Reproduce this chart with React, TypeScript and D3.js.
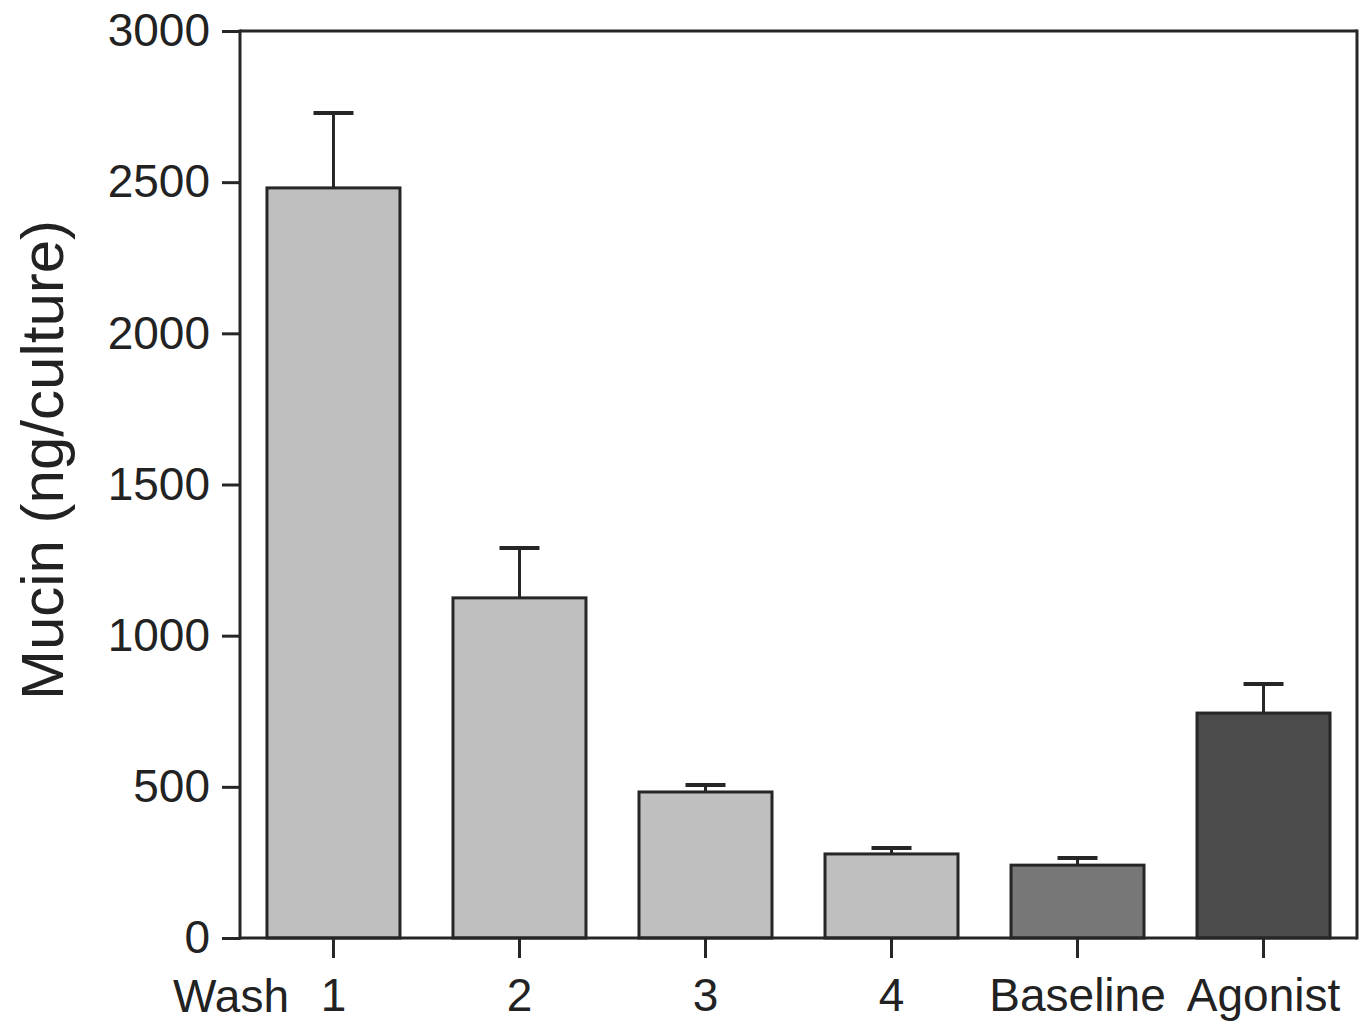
import React, { useEffect, useRef } from "react";
import * as d3 from "d3";

const categories = ["1", "2", "3", "4", "Baseline", "Agonist"];
const means = [2481, 1125, 483, 278, 241, 744];
const errors = [248, 165, 23, 20, 24, 96];
const fills = ["#bebfbe", "#bebfbe", "#bebfbe", "#bebfbe", "#777777", "#4b4b4b"];
const yTicks = [0, 500, 1000, 1500, 2000, 2500, 3000];
const yLabel = "Mucin (ng/culture)";
const xPrefix = "Wash";

export default function App() {
  const ref = useRef<SVGSVGElement>(null);
  useEffect(() => {
    document.body.style.margin = "0";
    const svg = d3.select(ref.current);
    svg.selectAll("*").remove();
    const left = 240, right = 1357, top = 31, bottom = 938;
    const font = "Liberation Sans, Arial, Helvetica, sans-serif";
    const x = d3.scaleBand<string>().domain(categories).range([left, right]).paddingInner(0.285).paddingOuter(0.145);
    const y = d3.scaleLinear().domain([0, 3000]).range([bottom, top]);
    const ink = "#262626";

    // bars
    const g = svg.append("g");
    categories.forEach((c, i) => {
      const x0 = x(c)!;
      const cx = x0 + x.bandwidth() / 2;
      g.append("line").attr("x1", cx).attr("x2", cx).attr("y1", y(means[i])).attr("y2", y(means[i] + errors[i]))
        .attr("stroke", ink).attr("stroke-width", 3);
      g.append("line").attr("x1", cx - 20).attr("x2", cx + 20).attr("y1", y(means[i] + errors[i])).attr("y2", y(means[i] + errors[i]))
        .attr("stroke", ink).attr("stroke-width", 4);
      g.append("rect").attr("x", x0).attr("y", y(means[i])).attr("width", x.bandwidth())
        .attr("height", y(0) - y(means[i])).attr("fill", fills[i]).attr("stroke", ink).attr("stroke-width", 3);
    });

    // frame
    svg.append("line").attr("x1", left).attr("x2", right).attr("y1", top).attr("y2", top).attr("stroke", ink).attr("stroke-width", 3);
    svg.append("line").attr("x1", right).attr("x2", right).attr("y1", top - 1.5).attr("y2", bottom + 1.5).attr("stroke", ink).attr("stroke-width", 3);

    // y axis
    const ya = svg.append("g").attr("transform", `translate(${left},0)`)
      .call(d3.axisLeft(y).tickValues(yTicks).tickSize(18).tickPadding(12).tickSizeOuter(0).tickFormat(d3.format("d")));
    ya.select(".domain").attr("stroke", ink).attr("stroke-width", 3).attr("d", `M0,${top - 1.5}V${bottom + 1.5}`);
    ya.selectAll(".tick line").attr("stroke", ink).attr("stroke-width", 3);
    ya.selectAll(".tick text").attr("font-size", 46).attr("font-family", font).attr("fill", "#222");

    // x axis
    const xa = svg.append("g").attr("transform", `translate(0,${bottom})`)
      .call(d3.axisBottom(x).tickSize(20).tickPadding(20).tickSizeOuter(0));
    xa.select(".domain").attr("stroke", ink).attr("stroke-width", 3).attr("d", `M${left},0H${right}`);
    xa.selectAll(".tick line").attr("stroke", ink).attr("stroke-width", 3);
    xa.selectAll(".tick text").attr("font-size", 46).attr("font-family", font).attr("fill", "#222").attr("dy", "0.71em");

    svg.append("text").attr("x", 289).attr("y", 1012).attr("text-anchor", "end").attr("font-size", 46)
      .attr("font-family", font).attr("fill", "#222").text(xPrefix);

    svg.append("text").attr("transform", `translate(63,${460}) rotate(-90)`).attr("text-anchor", "middle")
      .attr("font-size", 60).attr("font-family", font).attr("fill", "#222").text(yLabel);
  }, []);
  return <svg ref={ref} width={1365} height={1025} style={{ display: "block", background: "#fff" }} />;
}
